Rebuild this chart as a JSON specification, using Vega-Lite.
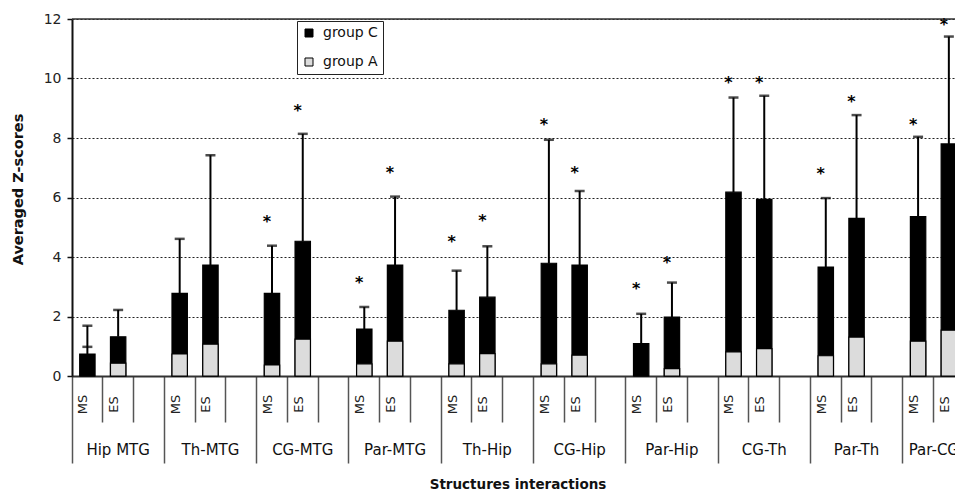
{
  "$schema": "https://vega.github.io/schema/vega-lite/v6.json",
  "width": 883,
  "height": 357,
  "autosize": {"type": "none"},
  "padding": {"left": 72, "top": 19, "right": 0, "bottom": 116},
  "background": "white",
  "config": {
    "font": "DejaVu Sans",
    "view": {"stroke": null},
    "axis": {"labelFont": "DejaVu Sans", "titleFont": "DejaVu Sans"},
    "axisY": {
      "grid": true, "gridDash": [2, 2], "gridColor": "#222", "gridWidth": 1,
      "domain": true, "domainColor": "#111", "domainWidth": 2,
      "ticks": true, "tickSize": 5, "tickColor": "#111", "tickWidth": 1.5,
      "labelFontSize": 14, "labelColor": "#222", "labelPadding": 6
    },
    "legend": {"labelFont": "DejaVu Sans"}
  },
  "data": {
    "values": [
      {"structure": "Hip MTG", "state": "MS", "bar": "Hip MTG MS", "group C": 0.74, "group A": 0, "errC": 1.69, "star": null, "errA": 0.98},
      {"structure": "Hip MTG", "state": "ES", "bar": "Hip MTG ES", "group C": 1.32, "group A": 0.43, "errC": 2.22, "star": null, "errA": null},
      {"structure": "Th-MTG", "state": "MS", "bar": "Th-MTG MS", "group C": 2.78, "group A": 0.74, "errC": 4.61, "star": null, "errA": null},
      {"structure": "Th-MTG", "state": "ES", "bar": "Th-MTG ES", "group C": 3.73, "group A": 1.07, "errC": 7.42, "star": null, "errA": null},
      {"structure": "CG-MTG", "state": "MS", "bar": "CG-MTG MS", "group C": 2.78, "group A": 0.37, "errC": 4.38, "star": 5.3, "errA": null},
      {"structure": "CG-MTG", "state": "ES", "bar": "CG-MTG ES", "group C": 4.53, "group A": 1.24, "errC": 8.14, "star": 9.04, "errA": null},
      {"structure": "Par-MTG", "state": "MS", "bar": "Par-MTG MS", "group C": 1.58, "group A": 0.41, "errC": 2.32, "star": 3.25, "errA": null},
      {"structure": "Par-MTG", "state": "ES", "bar": "Par-MTG ES", "group C": 3.73, "group A": 1.17, "errC": 6.03, "star": 6.95, "errA": null},
      {"structure": "Th-Hip", "state": "MS", "bar": "Th-Hip MS", "group C": 2.21, "group A": 0.41, "errC": 3.54, "star": 4.63, "errA": null},
      {"structure": "Th-Hip", "state": "ES", "bar": "Th-Hip ES", "group C": 2.65, "group A": 0.75, "errC": 4.36, "star": 5.33, "errA": null},
      {"structure": "CG-Hip", "state": "MS", "bar": "CG-Hip MS", "group C": 3.79, "group A": 0.41, "errC": 7.94, "star": 8.58, "errA": null},
      {"structure": "CG-Hip", "state": "ES", "bar": "CG-Hip ES", "group C": 3.73, "group A": 0.7, "errC": 6.22, "star": 6.96, "errA": null},
      {"structure": "Par-Hip", "state": "MS", "bar": "Par-Hip MS", "group C": 1.09, "group A": 0, "errC": 2.09, "star": 3.06, "errA": null},
      {"structure": "Par-Hip", "state": "ES", "bar": "Par-Hip ES", "group C": 1.98, "group A": 0.25, "errC": 3.14, "star": 3.92, "errA": null},
      {"structure": "CG-Th", "state": "MS", "bar": "CG-Th MS", "group C": 6.18, "group A": 0.81, "errC": 9.36, "star": 9.99, "errA": null},
      {"structure": "CG-Th", "state": "ES", "bar": "CG-Th ES", "group C": 5.94, "group A": 0.92, "errC": 9.42, "star": 9.99, "errA": null},
      {"structure": "Par-Th", "state": "MS", "bar": "Par-Th MS", "group C": 3.66, "group A": 0.68, "errC": 5.98, "star": 6.93, "errA": null},
      {"structure": "Par-Th", "state": "ES", "bar": "Par-Th ES", "group C": 5.3, "group A": 1.31, "errC": 8.77, "star": 9.36, "errA": null},
      {"structure": "Par-CG", "state": "MS", "bar": "Par-CG MS", "group C": 5.36, "group A": 1.17, "errC": 8.04, "star": 8.58, "errA": null},
      {"structure": "Par-CG", "state": "ES", "bar": "Par-CG ES", "group C": 7.8, "group A": 1.54, "errC": 11.41, "star": 11.94, "errA": null}
    ]
  },
  "resolve": {"axis": {"x": "independent"}},
  "layer": [
    {
      "transform": [{"fold": ["group C", "group A"], "as": ["grp", "val"]}],
      "mark": {"type": "bar", "stroke": "black", "strokeWidth": 1.2, "width": {"band": 0.5}},
      "encoding": {
        "x": {
          "field": "bar", "type": "nominal", "sort": null,
          "scale": {
            "type": "band",
            "domain": ["Hip MTG MS","Hip MTG ES","Hip MTG gap","Th-MTG MS","Th-MTG ES","Th-MTG gap","CG-MTG MS","CG-MTG ES","CG-MTG gap","Par-MTG MS","Par-MTG ES","Par-MTG gap","Th-Hip MS","Th-Hip ES","Th-Hip gap","CG-Hip MS","CG-Hip ES","CG-Hip gap","Par-Hip MS","Par-Hip ES","Par-Hip gap","CG-Th MS","CG-Th ES","CG-Th gap","Par-Th MS","Par-Th ES","Par-Th gap","Par-CG MS","Par-CG ES","Par-CG gap"],
            "range": [0, 923],
            "paddingInner": 0,
            "paddingOuter": 0
          },
          "axis": {
            "orient": "bottom", "domain": true, "domainColor": "#333", "domainWidth": 2,
            "ticks": true, "bandPosition": 0, "tickColor": "#555", "tickWidth": 1.5,
            "tickSize": {"condition": {"test": "slice(datum.value,-2)=='MS'", "value": 87}, "value": 46},
            "labels": false, "grid": false, "title": null
          }
        },
        "y": {
          "field": "val", "type": "quantitative", "stack": null,
          "scale": {"domain": [0, 12], "nice": false},
          "axis": {
            "values": [0, 2, 4, 6, 8, 10, 12],
            "title": "Averaged Z-scores", "titleFontSize": 14.5, "titleFontWeight": "bold", "titleColor": "#111",
            "titleX": -54, "titleY": 170, "titleAngle": -90, "titleAlign": "center", "titleBaseline": "middle"
          }
        },
        "color": {
          "field": "grp", "type": "nominal",
          "scale": {"domain": ["group C", "group A"], "range": ["#000000", "#dcdcdc"]},
          "legend": {
            "orient": "none", "legendX": 225, "legendY": 2, "title": null,
            "strokeColor": "#222", "fillColor": "white", "padding": 5,
            "labelFontSize": 14, "labelColor": "#111", "labelOffset": 7,
            "symbolType": "square", "symbolSize": 64, "symbolStrokeColor": "black", "symbolStrokeWidth": 1,
            "rowPadding": 15
          }
        }
      }
    },
    {
      "mark": {"type": "rule", "color": "black", "strokeWidth": 2},
      "encoding": {
        "x": {
          "field": "bar", "type": "nominal",
          "axis": {
            "orient": "bottom", "domain": false, "ticks": false, "tickSize": 0, "grid": false,
            "labelAngle": -90, "labelAlign": "center", "labelBaseline": "alphabetic", "labelPadding": 28,
            "labelExpr": "slice(datum.value,-3)=='gap' ? '' : slice(datum.value,-2)",
            "labelFontSize": 13, "labelColor": "#222", "labelOverlap": false, "labelBound": false, "labelFlush": false,
            "title": null
          }
        },
        "y": {"field": "group C", "type": "quantitative", "title": "Averaged Z-scores"},
        "y2": {"field": "errC"}
      }
    },
    {
      "mark": {"type": "tick", "color": "black", "thickness": 2.5, "size": 10},
      "encoding": {
        "x": {"field": "bar", "type": "nominal", "axis": null},
        "y": {"field": "errC", "type": "quantitative", "title": "Averaged Z-scores"}
      }
    },
    {
      "transform": [{"filter": "datum.errA != null"}],
      "mark": {"type": "tick", "color": "black", "thickness": 2.5, "size": 10},
      "encoding": {
        "x": {"field": "bar", "type": "nominal", "axis": null},
        "y": {"field": "errA", "type": "quantitative", "title": "Averaged Z-scores"}
      }
    },
    {
      "data": {"values": [{"top": 12}]},
      "mark": {"type": "rule", "color": "#333", "strokeWidth": 1.5},
      "encoding": {
        "y": {"field": "top", "type": "quantitative", "title": "Averaged Z-scores"}
      }
    },
    {
      "transform": [{"filter": "datum.star != null"}],
      "mark": {"type": "text", "text": "*", "fontSize": 16, "baseline": "alphabetic", "dy": 9, "dx": -5, "color": "black", "fontWeight": "bold"},
      "encoding": {
        "x": {
          "field": "bar", "type": "nominal",
          "axis": {
            "orient": "bottom", "domain": false, "ticks": false, "tickSize": 0, "grid": false,
            "values": ["Hip MTG ES","Th-MTG ES","CG-MTG ES","Par-MTG ES","Th-Hip ES","CG-Hip ES","Par-Hip ES","CG-Th ES","Par-Th ES","Par-CG ES"],
            "labelExpr": "replace(datum.value,' ES','')",
            "labelOffset": {"condition": {"test": "datum.value=='Par-CG ES'", "value": -15}, "value": 0},
            "labelAngle": 0, "labelAlign": "center", "labelBaseline": "middle", "labelPadding": 73,
            "labelFontSize": 15, "labelColor": "#111", "labelOverlap": false, "labelBound": false, "labelFlush": false,
            "title": "Structures interactions", "titleFontSize": 13.5, "titleFontWeight": "bold", "titleColor": "#111",
            "titleX": 445.5, "titleY": 108, "titleBaseline": "middle", "titleAlign": "center"
          }
        },
        "y": {"field": "star", "type": "quantitative", "title": "Averaged Z-scores"}
      }
    }
  ]
}
